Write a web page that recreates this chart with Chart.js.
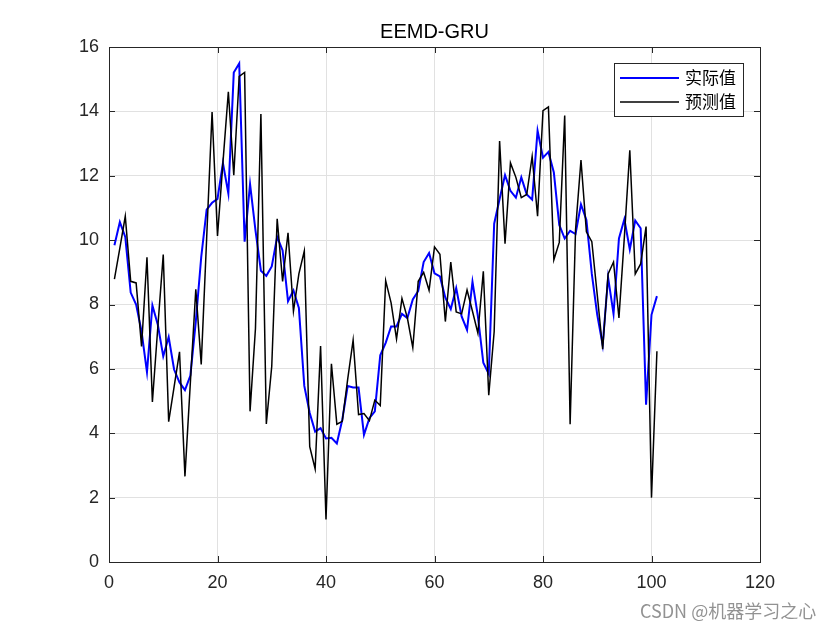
<!DOCTYPE html>
<html>
<head>
<meta charset="utf-8">
<script src="https://cdn.jsdelivr.net/npm/chart.js@4"></script>
<style>
  html, body { margin: 0; padding: 0; background: #fff; }
  #wrap { position: relative; width: 840px; height: 630px; }
  #watermark {
    position: absolute; left: 640px; top: 598px;
    font: 18px "Noto Sans CJK SC", "Liberation Sans", sans-serif;
    line-height: 24px;
    color: rgba(110,110,110,0.75); white-space: nowrap;
  }
</style>
</head>
<body>
<div id="wrap">
  <canvas id="chart" width="840" height="630"></canvas>
  <div id="watermark">CSDN @机器学习之心</div>
</div>
<script>
// ------------------ DATA ------------------
const chartTitle = 'EEMD-GRU';
const seriesNames = ['实际值', '预测值'];
const xTicks = [0, 20, 40, 60, 80, 100, 120];
const yTicks = [0, 2, 4, 6, 8, 10, 12, 14, 16];

const actual = [
    9.84, 10.56, 10.1, 8.37, 8.0, 7.16, 5.9, 7.97, 7.37, 6.39,
    6.99, 5.98, 5.58, 5.34, 5.79, 7.47, 9.47, 10.95, 11.16, 11.28,
    12.39, 11.45, 15.21, 15.49, 9.95, 11.74, 10.3, 9.05, 8.89, 9.18,
    10.1, 9.68, 8.1, 8.44, 7.89, 5.47, 4.63, 4.05, 4.16, 3.84,
    3.86, 3.68, 4.42, 5.47, 5.42, 5.42, 3.95, 4.47, 4.68, 6.42,
    6.81, 7.32, 7.32, 7.71, 7.58, 8.16, 8.42, 9.32, 9.6, 8.97,
    8.87, 8.21, 7.86, 8.51, 7.63, 7.21, 8.71, 7.63, 6.19, 5.84,
    10.51, 11.28, 12.02, 11.53, 11.32, 11.95, 11.42, 11.26, 13.4, 12.56,
    12.74, 12.1, 10.47, 10.05, 10.29, 10.19, 11.11, 10.63, 8.95, 7.68,
    6.74, 8.84, 7.71, 10.05, 10.65, 9.71, 10.61, 10.37, 4.89, 7.68,
    8.26
];

const predicted = [
    8.79, 9.75, 10.74, 8.72, 8.67, 6.7, 9.47, 4.97, 7.3, 9.55,
    4.36, 5.44, 6.53, 2.66, 5.58, 8.47, 6.14, 10.05, 13.98, 10.13,
    12.4, 14.61, 12.02, 15.09, 15.21, 4.68, 7.26, 13.92, 4.29, 6.08,
    10.66, 8.72, 10.23, 7.79, 8.95, 9.66, 3.58, 2.89, 6.71, 1.32,
    6.16, 4.28, 4.37, 5.68, 6.89, 4.58, 4.61, 4.39, 5.03, 4.86,
    8.74, 8.05, 6.93, 8.19, 7.58, 6.66, 8.72, 9.0, 8.44, 9.79,
    9.56, 7.47, 9.32, 7.77, 7.71, 8.45, 7.79, 7.11, 9.03, 5.18,
    7.16, 13.08, 9.89, 12.4, 11.95, 11.32, 11.42, 12.6, 10.74, 14.02,
    14.14, 9.39, 9.93, 13.87, 4.28, 10.32, 12.49, 10.26, 9.95, 8.3,
    6.61, 8.95, 9.32, 7.58, 10.1, 12.79, 8.95, 9.26, 10.42, 2.0,
    6.55
];

const AXIS_COLOR = '#262626';
const GRID_COLOR = '#e1e1e1';
const FONT_FAMILY = '"Liberation Sans", Arial, sans-serif';

// samples are numbered 1..N along x
const toPoints = arr => arr.map((v, i) => ({ x: i + 1, y: v }));

// ------------------ PLUGIN: box, inner ticks, title, legend ------------------
const matlabFrame = {
    id: 'matlabFrame',
    afterDraw(chart) {
        const { ctx, chartArea: a, scales } = chart;
        ctx.save();

        // axes box
        ctx.strokeStyle = AXIS_COLOR;
        ctx.lineWidth = 1;
        ctx.strokeRect(a.left + 0.5, a.top + 0.5, a.right - a.left, a.bottom - a.top);

        // inward ticks on all four sides
        const len = 6;
        ctx.beginPath();
        xTicks.forEach(t => {
            const px = Math.round(scales.x.getPixelForValue(t)) + 0.5;
            ctx.moveTo(px, a.bottom); ctx.lineTo(px, a.bottom - len);
            ctx.moveTo(px, a.top); ctx.lineTo(px, a.top + len);
        });
        yTicks.forEach(t => {
            const py = Math.round(scales.y.getPixelForValue(t)) + 0.5;
            ctx.moveTo(a.left, py); ctx.lineTo(a.left + len, py);
            ctx.moveTo(a.right, py); ctx.lineTo(a.right - len, py);
        });
        ctx.stroke();

        // title
        ctx.fillStyle = '#000';
        ctx.font = '20px ' + FONT_FAMILY;
        ctx.textAlign = 'center';
        ctx.textBaseline = 'middle';
        ctx.fillText(chartTitle, (a.left + a.right) / 2, 32);

        // legend
        const lx = 614, ly = 63, lw = 129, lh = 53;
        ctx.fillStyle = '#fff';
        ctx.fillRect(lx, ly, lw, lh);
        ctx.strokeStyle = AXIS_COLOR;
        ctx.lineWidth = 1;
        ctx.strokeRect(lx + 0.5, ly + 0.5, lw, lh);
        const colors = ['#0000ff', '#000000'];
        const widths = [2, 1.5];
        ctx.font = '17px "Noto Sans CJK SC", sans-serif';
        ctx.textAlign = 'left';
        seriesNames.forEach((name, i) => {
            const y = 78 + i * 24;
            ctx.strokeStyle = colors[i];
            ctx.lineWidth = widths[i];
            ctx.beginPath();
            ctx.moveTo(620, y); ctx.lineTo(679, y);
            ctx.stroke();
            ctx.fillStyle = '#000';
            ctx.fillText(name, 685, y);
        });
        ctx.restore();
    }
};

// ------------------ CHART ------------------
const ctx = document.getElementById('chart').getContext('2d');
new Chart(ctx, {
    type: 'line',
    data: {
        datasets: [
            {
                label: seriesNames[0],
                data: toPoints(actual),
                borderColor: '#0000ff',
                borderWidth: 2,
                pointRadius: 0,
                tension: 0,
                fill: false,
                order: 1
            },
            {
                label: seriesNames[1],
                data: toPoints(predicted),
                borderColor: '#000000',
                borderWidth: 1.5,
                pointRadius: 0,
                tension: 0,
                fill: false,
                order: 0
            }
        ]
    },
    options: {
        responsive: false,
        animation: false,
        layout: { padding: { left: 0, right: 80, top: 47, bottom: 0 } },
        plugins: {
            legend: { display: false },
            title: { display: false },
            tooltip: { enabled: false }
        },
        scales: {
            x: {
                type: 'linear',
                min: 0, max: 120,
                afterBuildTicks: s => { s.ticks = xTicks.map(v => ({ value: v })); },
                afterFit: s => { s.height = 68; },
                grid: { color: GRID_COLOR, drawTicks: false },
                border: { display: false },
                ticks: { color: AXIS_COLOR, font: { family: FONT_FAMILY, size: 18 }, padding: 10, maxRotation: 0 }
            },
            y: {
                min: 0, max: 16,
                afterBuildTicks: s => { s.ticks = yTicks.map(v => ({ value: v })); },
                afterFit: s => { s.width = 109; },
                grid: { color: GRID_COLOR, drawTicks: false },
                border: { display: false },
                ticks: { color: AXIS_COLOR, font: { family: FONT_FAMILY, size: 18 }, padding: 10 }
            }
        }
    },
    plugins: [matlabFrame]
});
</script>
</body>
</html>
